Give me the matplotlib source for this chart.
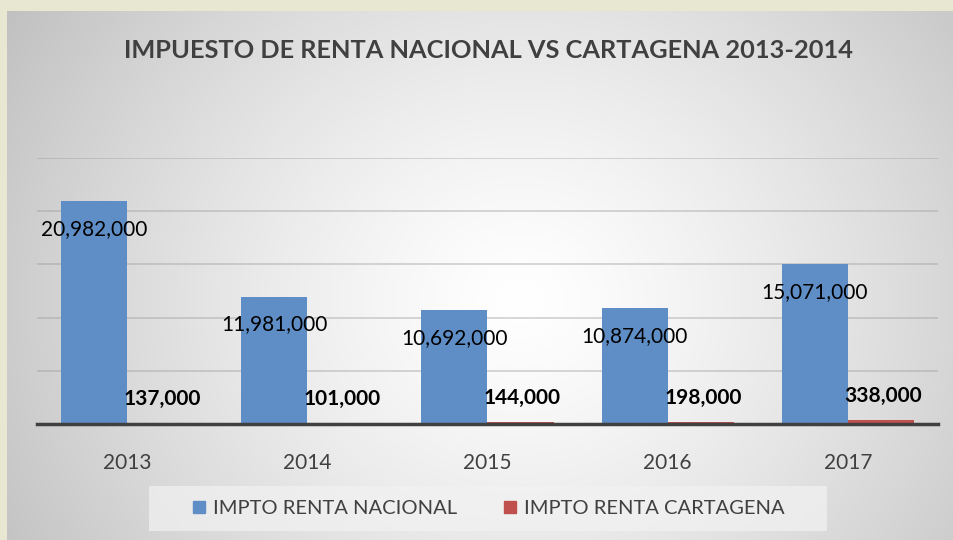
import numpy as np
import matplotlib
matplotlib.use("Agg")
import matplotlib.pyplot as plt
from matplotlib.patches import Rectangle

years = ["2013", "2014", "2015", "2016", "2017"]
nacional = [20982000, 11981000, 10692000, 10874000, 15071000]
cartagena = [137000, 101000, 144000, 198000, 338000]
series_names = ["IMPTO RENTA NACIONAL", "IMPTO RENTA CARTAGENA"]
title = "IMPUESTO DE RENTA NACIONAL VS CARTAGENA 2013-2014"

plt.rcParams['font.family'] = ['Lato', 'DejaVu Sans']

W, H = 954, 540
fig = plt.figure(figsize=(W / 100, H / 100), dpi=100)
fig.patch.set_facecolor('#e8e8d2')

# background panel with radial gradient
bx0, by0 = 7, 11
bg = fig.add_axes([bx0 / W, 0, (W - bx0) / W, (H - by0) / H])
yy, xx = np.mgrid[by0:H, bx0:W]
cx, cy = 520, 300
d = np.sqrt((xx - cx) ** 2 + ((yy - cy) * 1.1) ** 2)
val = 255 - 62 * np.clip(d / 600, 0, 1.3) ** 1.3
img = np.dstack([val, val, val]) / 255.0
bg.imshow(np.clip(img, 0, 1), aspect='auto', extent=[0, 1, 0, 1])
bg.set_axis_off()

# main axes
left, right, base, top = 37, 938, 424, 158
ax = fig.add_axes([left / W, (H - base) / H, (right - left) / W, (base - top) / H])
ax.patch.set_alpha(0)
x = np.arange(len(years))
w = 0.367
blue = '#5f8ec6'
red = '#c0504d'
ax.bar(x - w / 2, nacional, w, color=blue, label=series_names[0], zorder=3)
ax.bar(x + w / 2, cartagena, w, color=red, label=series_names[1], zorder=3)
ax.set_xlim(-0.5, len(years) - 0.5)
ax.set_ylim(0, 25000000)
ax.set_yticks([5e6, 10e6, 15e6, 20e6, 25e6])
ax.yaxis.grid(True, color='#9a9a9a', alpha=0.45, linewidth=1.2, zorder=0)
ax.tick_params(axis='y', left=False, labelleft=False)
for s in ['top', 'right', 'left']:
    ax.spines[s].set_visible(False)
ax.spines['bottom'].set_color('#404040')
ax.spines['bottom'].set_linewidth(2.5)
ax.spines['bottom'].set_zorder(4)
ax.set_xticks(x)
ax.set_xticklabels(years, fontsize=15, color='#404040')
ax.tick_params(axis='x', length=0, pad=21)

for xi, v in zip(x, nacional):
    ax.annotate(f"{v:,}", (xi - w / 2, v), xytext=(0, -28), textcoords='offset pixels',
                ha='center', va='center', fontsize=15, color='black', zorder=5)
for xi, v in zip(x, cartagena):
    ax.annotate(f"{v:,}", (xi + w / 2, v), xytext=(2, 24), textcoords='offset pixels',
                ha='center', va='center', fontsize=15, fontweight='bold', color='black', zorder=5)

fig.text(488 / W, 1 - 50 / H, title, ha='center', va='center', fontsize=18.3,
         fontweight='bold', color='#404040')

# legend box
lx0, lx1, ly0, ly1 = 149, 827, 486, 531
fig.patches.append(Rectangle((lx0 / W, 1 - ly1 / H), (lx1 - lx0) / W, (ly1 - ly0) / H,
                             transform=fig.transFigure, facecolor='#f2f2f2', alpha=0.7,
                             edgecolor='none', zorder=1))
handles = [plt.Line2D([], [], marker='s', linestyle='none', markersize=9, color=blue),
           plt.Line2D([], [], marker='s', linestyle='none', markersize=9, color=red)]
leg = fig.legend(handles=handles, labels=series_names, loc='center',
                 bbox_to_anchor=((lx0 + lx1) / 2 / W, 1 - (ly0 + ly1) / 2 / H),
                 ncol=2, frameon=False, fontsize=14.5, handletextpad=0.3, columnspacing=2.2,
                 labelcolor='#404040', handlelength=0.8)

fig.savefig('out.png', dpi=100, facecolor=fig.get_facecolor())
